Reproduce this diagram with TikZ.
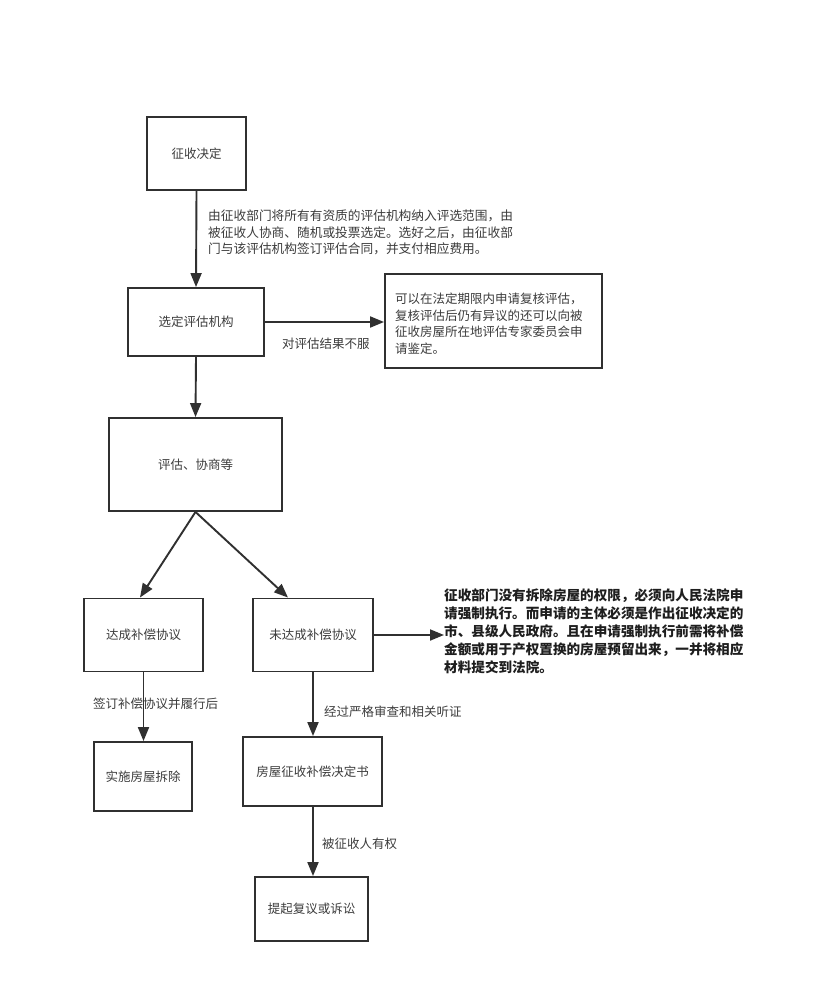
\documentclass[tikz,border=0pt]{standalone}
\usepackage{fontspec}
\setmainfont{Noto Sans CJK SC}
\usetikzlibrary{arrows.meta}
\definecolor{linec}{HTML}{303030}
\definecolor{txtc}{HTML}{3C3C3C}
\definecolor{boldc}{HTML}{1E1E1E}
\tikzset{
  x=1pt, y=-1pt,
  box/.style={draw=linec, line width=1.9pt, fill=white, inner sep=0pt, align=center,
    text=txtc, font=\fontsize{12.5}{16.5}\selectfont},
  lbl/.style={text=txtc, inner sep=0pt, font=\fontsize{12.5}{16.5}\selectfont},
  arr/.style={draw=linec, line width=1.9pt, -{Triangle[length=14pt,width=11pt]}},
}
\begin{document}
\begin{tikzpicture}
\useasboundingbox (0,0) rectangle (815,1000);
\fill[white] (0,0) rectangle (815,1000);

% boxes
\node[box, minimum width=99pt, minimum height=73pt] (b1) at (196.5,153.5) {征收决定};
\node[box, minimum width=136pt, minimum height=68pt] (b2) at (196,322) {选定评估机构};
\node[box, minimum width=217pt, minimum height=94pt] (b3) at (493.5,321) {};
\node[box, minimum width=173pt, minimum height=93pt] (b4) at (195.5,464.5) {评估、协商等};
\node[box, minimum width=119pt, minimum height=73pt] (b5) at (143.5,635) {达成补偿协议};
\node[box, minimum width=120pt, minimum height=73pt] (b6) at (313,635) {未达成补偿协议};
\node[box, minimum width=98pt, minimum height=69pt] (b7) at (143,776.5) {实施房屋拆除};
\node[box, minimum width=139pt, minimum height=69pt] (b8) at (312.5,771.5) {房屋征收补偿决定书};
\node[box, minimum width=113pt, minimum height=64pt] (b9) at (311.5,909) {提起复议或诉讼};

% box3 text
\node[lbl, anchor=north west, align=left] (t3) at (395,293)
  {可以在法定期限内申请复核评估，\\复核评估后仍有异议的还可以向被\\征收房屋所在地评估专家委员会申\\请鉴定。};

% bold text
\node[inner sep=0pt, anchor=west, align=left, text=boldc,
      font=\fontsize{13.6}{17.9}\selectfont\bfseries] (t6) at (444,631)
  {征收部门没有拆除房屋的权限，必须向人民法院申\\请强制执行。而申请的主体必须是作出征收决定的\\市、县级人民政府。且在申请强制执行前需将补偿\\金额或用于产权置换的房屋预留出来，一并将相应\\材料提交到法院。};

% arrows
\draw[arr] (b1.south) -- (b2.north);
\draw[arr] (b2.east) -- (b2.east -| b3.west);
\draw[arr] (b2.south) -- (b4.north);
\draw[arr] (b4.south) -- ([xshift=-3.5pt]b5.north);
\draw[arr] (b4.south) -- ([xshift=-25pt]b6.north);
\draw[arr] (b6.east) -- (b6.east -| t6.west);
\draw[arr] (b5.south) -- (b5.south |- b7.north);
\draw[arr] (b6.south) -- (b6.south |- b8.north);
\draw[arr] ([xshift=0.5pt]b8.south) -- ([xshift=0.5pt]b8.south |- b9.north);

% labels
\node[lbl, anchor=north west, align=left, font=\fontsize{12.7}{16.5}\selectfont] (l1) at (208,210)
  {由征收部门将所有有资质的评估机构纳入评选范围，由\\被征收人协商、随机或投票选定。选好之后，由征收部\\门与该评估机构签订评估合同，并支付相应费用。};
\node[lbl, anchor=west] (l2) at (282,344) {对评估结果不服};
\node[lbl] (l3) at (155.5,704) {签订补偿协议并履行后};
\node[lbl, anchor=west] (l4) at (324,712) {经过严格审查和相关听证};
\node[lbl, anchor=west] (l5) at (322,844) {被征收人有权};
\end{tikzpicture}
\end{document}
